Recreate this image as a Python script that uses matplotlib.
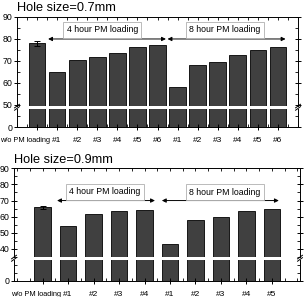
import matplotlib
matplotlib.use("Agg")
import matplotlib.pyplot as plt
from matplotlib.ticker import MultipleLocator, FixedLocator
from matplotlib.transforms import ScaledTranslation

plt.rcParams['font.family'] = ['Liberation Sans', 'DejaVu Sans']

# Hole size 0.7 mm
labels_07 = ["w/o PM loading", "#1", "#2", "#3", "#4", "#5", "#6",
             "#1", "#2", "#3", "#4", "#5", "#6"]
values_07 = [78.0, 65.0, 70.5, 72.0, 73.5, 76.3, 77.3,
             58.2, 68.0, 69.5, 72.5, 75.0, 76.3]
err_07 = 1.2

# Hole size 0.9 mm
labels_09 = ["w/o PM loading", "#1", "#2", "#3", "#4",
             "#1", "#2", "#3", "#4", "#5"]
values_09 = [65.7, 54.5, 61.5, 63.5, 64.3,
             43.0, 58.0, 60.0, 63.5, 65.0]
err_09 = 1.2

BAR = '#404040'
fig = plt.figure(figsize=(3.05, 2.97), dpi=100)


def px(x0, y0, x1, y1):
    # pixel box (top-left origin) -> figure fraction rect
    return [x0 / 305, (297 - y1) / 297, (x1 - x0) / 305, (y1 - y0) / 297]


def panel(labels, values, err, up_rect, lo_rect, up_lim, lo_lim, xlim,
          width, title, arrows, boxes, first_off):
    ax_up = fig.add_axes(up_rect)
    ax_lo = fig.add_axes(lo_rect, sharex=ax_up)
    x = list(range(len(values)))
    for ax in (ax_up, ax_lo):
        ax.bar(x, values, width=width, color=BAR, edgecolor='black', linewidth=0.6)
        ax.set_xlim(*xlim)
        for s in ax.spines.values():
            s.set_linewidth(0.7)
    ax_up.errorbar([0], [values[0]], yerr=err, fmt='none', ecolor='black',
                   elinewidth=0.7, capsize=2.5, capthick=0.7)
    ax_up.set_ylim(*up_lim)
    ax_lo.set_ylim(*lo_lim)
    ax_up.spines['bottom'].set_visible(False)
    ax_lo.spines['top'].set_visible(False)

    ax_up.yaxis.set_major_locator(MultipleLocator(10))
    ax_up.yaxis.set_minor_locator(MultipleLocator(5))
    ax_lo.yaxis.set_major_locator(FixedLocator([0]))
    ax_lo.yaxis.set_minor_locator(MultipleLocator(5))
    for ax in (ax_up, ax_lo):
        ax.tick_params(axis='y', which='major', direction='inout', length=4,
                       width=0.7, labelsize=6.3, pad=1.5, right=True)
        ax.tick_params(axis='y', which='minor', direction='in', length=2,
                       width=0.6, right=True)

    ax_up.xaxis.set_minor_locator(MultipleLocator(0.5))
    ax_up.tick_params(axis='x', which='both', bottom=False, top=True,
                      labelbottom=False, direction='in', length=2.5, width=0.6)
    ax_lo.set_xticks(x)
    ax_lo.set_xticklabels(labels)
    ax_lo.tick_params(axis='x', which='major', direction='inout', length=4,
                      width=0.7, labelsize=6, pad=5, top=False)
    ax_lo.tick_params(axis='x', which='minor', direction='in', length=2,
                      width=0.6, top=False)
    lab0 = ax_lo.get_xticklabels()[0]
    lab0.set_fontsize(5.3)
    lab0.set_transform(lab0.get_transform() +
                       ScaledTranslation(first_off / 100, 0, fig.dpi_scale_trans))

    ax_up.text(0.0, 1.03, title, transform=ax_up.transAxes, fontsize=9.2,
               ha='left', va='bottom')

    for (xa, xb, ya) in arrows:
        ax_up.annotate('', xy=(xb, ya), xytext=(xa, ya),
                       arrowprops=dict(arrowstyle='<|-|>', color='black',
                                       lw=0.7, mutation_scale=6,
                                       shrinkA=0, shrinkB=0))
    for (xc, yc, txt) in boxes:
        ax_up.text(xc, yc, txt, fontsize=6.3, ha='center', va='center',
                   bbox=dict(boxstyle='square,pad=0.4', fc='white',
                             ec='#b0b0b0', lw=0.6))

    # break marks on both spines
    for xf in (up_rect[0], up_rect[0] + up_rect[2]):
        yf = (up_rect[1] + lo_rect[1] + lo_rect[3]) / 2
        for dy in (-0.004, 0.004):
            fig.add_artist(plt.Line2D([xf - 0.008, xf + 0.008],
                                      [yf + dy - 0.006, yf + dy + 0.006],
                                      color='black', lw=0.7))
    return ax_up, ax_lo


panel(labels_07, values_07, err_07,
      px(17, 17, 298, 106), px(17, 108.5, 298, 127),
      (49.5, 90), (0, 8.4), (-1, 13), 0.83, "Hole size=0.7mm",
      [(0.55, 6.42, 80), (6.5, 12.38, 80)],
      [(3.25, 84.3, "4 hour PM loading"), (9.35, 84.3, "8 hour PM loading")],
      -12)

panel(labels_09, values_09, err_09,
      px(14, 168.3, 300, 257), px(14, 259.5, 300, 281),
      (35, 90), (0, 13.4), (-1.12, 10.1), 0.65, "Hole size=0.9mm",
      [(0.57, 4.41, 70), (4.68, 9.27, 70)],
      [(2.45, 75.5, "4 hour PM loading"), (7.15, 75.0, "8 hour PM loading")],
      -7)

fig.savefig("out.png", dpi=100)
